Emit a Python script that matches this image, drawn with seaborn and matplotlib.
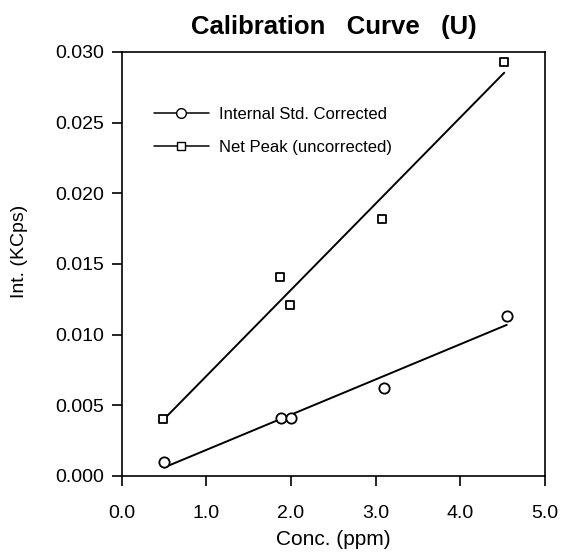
import matplotlib
matplotlib.use("Agg")
import matplotlib.pyplot as plt
from matplotlib.lines import Line2D
import seaborn as sns
import pandas as pd

# values
conc_corrected = [0.50, 1.88, 2.00, 3.10, 4.55]
int_corrected = [0.0010, 0.0041, 0.0041, 0.0062, 0.0113]

conc_net = [0.49, 1.87, 1.99, 3.08, 4.52]
int_net = [0.0040, 0.0141, 0.0121, 0.0182, 0.0293]

series_labels = ["Internal Std. Corrected", "Net Peak (uncorrected)"]
x_ticks = [0.0, 1.0, 2.0, 3.0, 4.0, 5.0]
y_ticks = [0.000, 0.005, 0.010, 0.015, 0.020, 0.025, 0.030]

sns.set_style("ticks")
plt.rcParams["font.family"] = ["Liberation Sans", "DejaVu Sans"]
plt.rcParams["text.color"] = "black"
plt.rcParams["axes.labelcolor"] = "black"

df_corr = pd.DataFrame({"conc": conc_corrected, "int": int_corrected})
df_net = pd.DataFrame({"conc": conc_net, "int": int_net})

fig = plt.figure(figsize=(5.64, 5.52), dpi=100)
ax = fig.add_axes([0.216, 0.138, 0.750, 0.768])

line_kws = dict(color="black", lw=1.4)
# least-squares fit lines
sns.regplot(data=df_corr, x="conc", y="int", ax=ax, scatter=False, ci=None, line_kws=line_kws)
sns.regplot(data=df_net, x="conc", y="int", ax=ax, scatter=False, ci=None, line_kws=line_kws)

# measured points
sns.scatterplot(data=df_corr, x="conc", y="int", ax=ax, marker="o", s=55,
                facecolor="white", edgecolor="black", linewidth=1.3, zorder=3)
sns.scatterplot(data=df_net, x="conc", y="int", ax=ax, marker="s", s=40,
                facecolor="white", edgecolor="black", linewidth=1.3, zorder=3)

ax.set_xlim(0, 5)
ax.set_ylim(0, 0.030)
ax.set_xticks(x_ticks)
ax.set_xticklabels([f"{v:.1f}" for v in x_ticks])
ax.set_yticks(y_ticks)
ax.set_yticklabels([f"{v:.3f}" for v in y_ticks])
ax.tick_params(axis="both", direction="out", length=7, width=1.2, colors="black",
               labelsize=14)
ax.tick_params(axis="x", pad=14)
ax.tick_params(axis="y", pad=6)
for sp in ax.spines.values():
    sp.set_visible(True)
    sp.set_color("black")
    sp.set_linewidth(1.2)

ax.set_xlabel("Conc. (ppm)", fontsize=15, labelpad=6)
ax.set_ylabel("Int. (KCps)", fontsize=14)
ax.yaxis.set_label_coords(-0.222, 0.53)
ax.set_title("Calibration   Curve   (U)", fontsize=18.5, fontweight="bold", pad=13)

handles = [
    Line2D([], [], color="black", lw=1.1, marker="o", markersize=7,
           markerfacecolor="white", markeredgecolor="black"),
    Line2D([], [], color="black", lw=1.1, marker="s", markersize=6,
           markerfacecolor="white", markeredgecolor="black"),
]
ax.legend(handles, series_labels, loc="upper left", bbox_to_anchor=(0.06, 0.885),
          frameon=False, fontsize=12, handlelength=3.3, handletextpad=0.6,
          labelspacing=1.05, borderaxespad=0)

fig.savefig("out.png", dpi=100)
